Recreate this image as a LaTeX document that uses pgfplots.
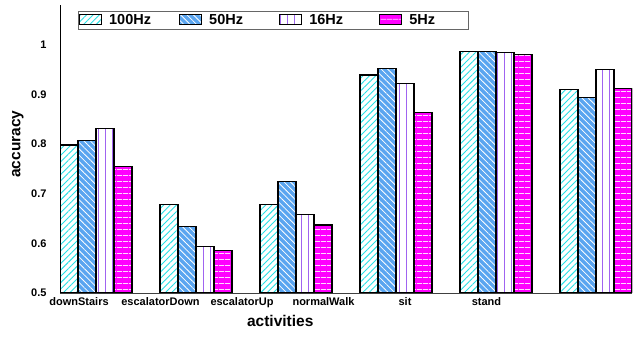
\documentclass[border=0pt]{standalone}
\usepackage{fontspec}
\setmainfont{Liberation Sans}
\usepackage{pgfplots}
\pgfplotsset{compat=1.18}
\usetikzlibrary{patterns.meta}
\definecolor{hzcyan}{RGB}{40,225,230}
\definecolor{hzblue}{RGB}{90,165,240}
\definecolor{hzpurple}{RGB}{160,100,240}
\definecolor{hzmag}{RGB}{255,0,255}
\begin{document}
\begin{tikzpicture}
\begin{axis}[
  name=ax,
  scale only axis,
  width=572bp, height=288bp,
  xmin=-0.36, xmax=5.36,
  ymin=0.5, ymax=1.08,
  axis x line*=bottom, axis y line*=left,
  axis line style={-, line width=0.8bp},
  x axis line style={draw=black!75},
  major tick length=0pt,
  xtick={-0.17,0.645,1.46,2.275,3.09,3.905},
  xticklabels={downStairs,escalatorDown,escalatorUp,normalWalk,sit,stand},
  ytick={0.5,0.6,0.7,0.8,0.9,1},
  /pgf/number format/fixed,
  /pgf/number format/precision=1,
  /pgf/number format/assume math mode=true,
  ticklabel style={font=\fontsize{11bp}{12bp}\selectfont\bfseries},
  yticklabel style={xshift=-10bp},
  xticklabel style={yshift=-1bp},
  xlabel={activities},
  ylabel={accuracy},
  label style={font=\fontsize{15.5bp}{17bp}\selectfont\bfseries},
  xlabel style={at={(rel axis cs:0.385,0)}, anchor=north, yshift=-19bp},
  ylabel style={at={(rel axis cs:0,0.517)}, anchor=south, yshift=33bp},
  ybar=0pt, bar width=0.18,
  legend columns=4,
  legend style={at={(rel axis cs:0.031,0.978)}, anchor=north west,
    draw=black!60, line width=0.6bp, fill=white, inner sep=1bp,
    font=\fontsize{14.5bp}{15bp}\selectfont\bfseries,
    /tikz/every even column/.append style={column sep=12bp},
    /tikz/every odd column/.append style={column sep=5bp}},
  legend image code/.code={\draw[#1] (0bp,-4bp) rectangle (22bp,6bp);},
]
\addplot[draw=black, line width=1.1bp, fill=white, bar shift=-0.27,
  postaction={pattern={Lines[angle=45,distance=4.5bp,line width=0.9bp]}, pattern color=hzcyan}]
  coordinates {(0,0.798) (1,0.679) (2,0.678) (3,0.939) (4,0.987) (5,0.910)};
\addplot[draw=black, line width=1.1bp, fill=hzblue, bar shift=-0.09,
  postaction={pattern={Lines[angle=-45,distance=4.5bp,line width=0.8bp]}, pattern color=white}]
  coordinates {(0,0.808) (1,0.634) (2,0.725) (3,0.953) (4,0.987) (5,0.894)};
\addplot[draw=black, line width=1.1bp, fill=white, bar shift=0.09,
  postaction={pattern={Lines[angle=90,distance=7bp,line width=0.9bp]}, pattern color=hzpurple}]
  coordinates {(0,0.832) (1,0.593) (2,0.658) (3,0.922) (4,0.984) (5,0.950)};
\addplot[draw=black, line width=1.1bp, fill=hzmag, bar shift=0.27,
  postaction={pattern={Lines[angle=0,distance=6bp,line width=0.9bp]}, pattern color=white!85!hzmag}]
  coordinates {(0,0.754) (1,0.585) (2,0.637) (3,0.864) (4,0.980) (5,0.911)};
\legend{\makebox[56bp][l]{100Hz},\makebox[56bp][l]{50Hz},\makebox[56bp][l]{16Hz},\makebox[56bp][l]{5Hz}}
\coordinate (sw) at (rel axis cs:0,0);
\coordinate (ne) at (rel axis cs:1,1);
\end{axis}
\path ([shift={(-60bp,-44bp)}]sw) rectangle ([shift={(8bp,5bp)}]ne);
\end{tikzpicture}
\end{document}
